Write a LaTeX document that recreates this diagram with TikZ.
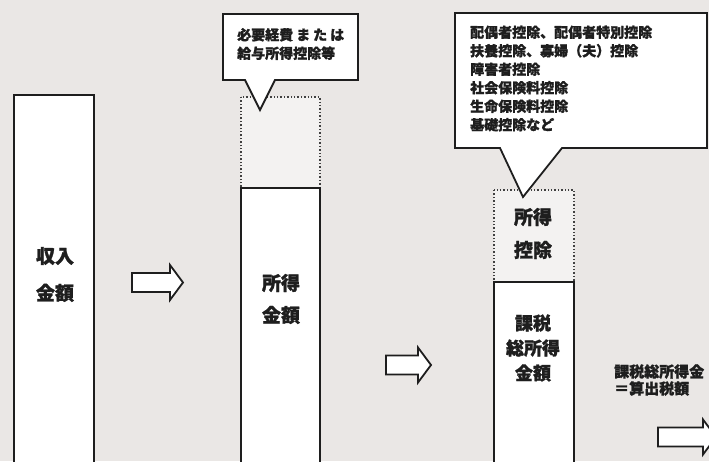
\documentclass[tikz,border=0pt]{standalone}
\usepackage{fontspec}
\newfontfamily\jp{Noto Sans CJK JP}[BoldFeatures={FakeBold=1.2}]
\definecolor{bg}{HTML}{EAE7E5}
\definecolor{ink}{HTML}{1E1E1E}
\newcommand\myblockarrow[4]{%
  \draw[arrowshape] (#1,{#4-9.5}) -- (#2,{#4-9.5}) -- (#2,{#4-17.5}) -- (#3,#4)
    -- (#2,{#4+17.5}) -- (#2,{#4+9.5}) -- (#1,{#4+9.5}) -- cycle;}
\begin{document}
\begin{tikzpicture}[x=1pt,y=-1pt,
  colbox/.style={draw=ink, line width=1.8pt, fill=white},
  dotbox/.style={draw=ink!85, line width=1.4pt, dotted, fill=bg!55!white},
  callout/.style={draw=ink, line width=1.8pt, fill=white, line join=miter},
  arrowshape/.style={draw=ink, line width=1.8pt, fill=white, line join=miter},
  bigtext/.style={font=\jp\bfseries\fontsize{19}{#1}\selectfont, align=center, text=ink, inner sep=0pt},
  smalltext/.style={font=\jp\bfseries\fontsize{14}{18.5}\selectfont, align=left, text=ink, inner sep=0pt, anchor=west}
]
\useasboundingbox (0,0) rectangle (709,461);
\fill[bg] (0,0) rectangle (709,461);
\clip (0,0) rectangle (709,461);

% column 1
\draw[colbox] (14,95) rectangle (94,475);
\node[bigtext=37] (c1) at (55,274.5) {収入\\金額};

% arrow 1
\myblockarrow{132}{170}{183}{282.5}

% column 2
\draw[dotbox] (241,97) rectangle (320,188);
\draw[colbox] (241,188) rectangle (320,475);
\node[bigtext=32] (c2) at (281,299) {所得\\金額};

% callout 1
\draw[callout] (223,14) -- (358,14) -- (358,80) -- (275,80) -- (260,110) -- (245,80) -- (223,80) -- cycle;
\node[smalltext] (t1) at (237,44) {必要経費\hspace{3pt}ま\hspace{3pt}た\hspace{3pt}は\\給与所得控除等};

% arrow 2
\myblockarrow{386}{418}{431}{365}

% column 3
\draw[dotbox] (494,190) rectangle (574,282);
\draw[colbox] (494,282) rectangle (574,475);
\node[bigtext=33] (c3a) at (533,233.5) {所得\\控除};
\node[font=\jp\bfseries\fontsize{18}{25}\selectfont, align=center, text=ink, inner sep=0pt] (c3b) at (533,348) {課税\\総所得\\金額};

% callout 2
\draw[callout] (455,13) -- (707,13) -- (707,148) -- (562,148) -- (523,197) -- (500,148) -- (455,148) -- cycle;
\node[smalltext] (t2) at (470,78.5) {配偶者控除、配偶者特別控除\\扶養控除、寡婦（夫）控除\\障害者控除\\社会保険料控除\\生命保険料控除\\基礎控除など};

% right text
\node[font=\jp\bfseries\fontsize{15}{17}\selectfont, align=left, text=ink, inner sep=0pt, anchor=west] (r1) at (614,380) {課税総所得金\\＝算出税額};

% arrow 3
\myblockarrow{658}{703}{716}{437}
\end{tikzpicture}
\end{document}
